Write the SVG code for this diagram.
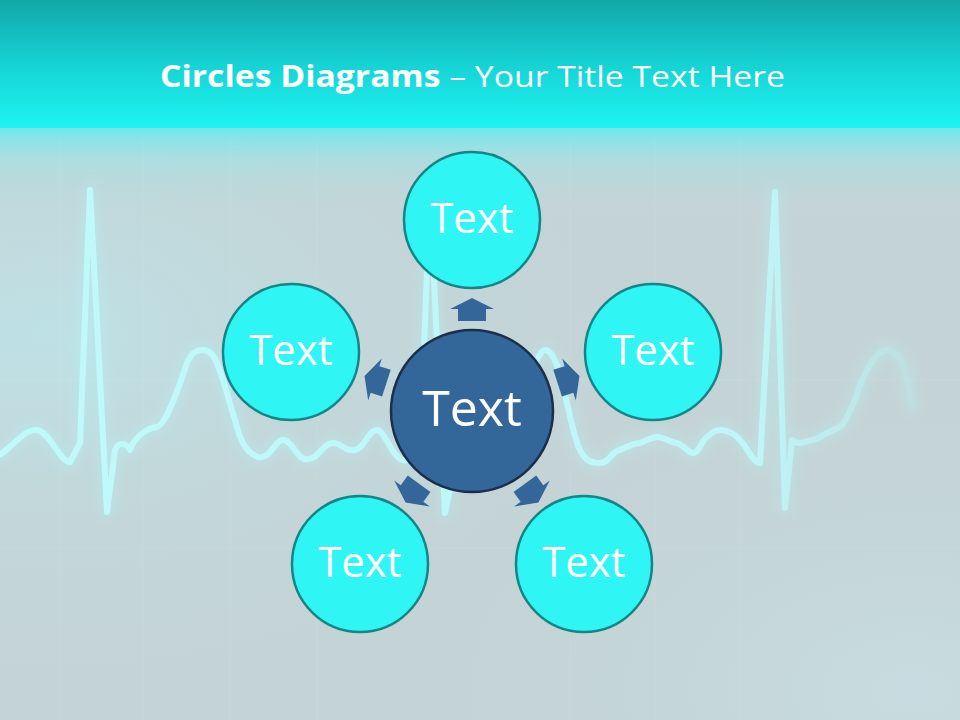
<svg xmlns="http://www.w3.org/2000/svg" xmlns:xlink="http://www.w3.org/1999/xlink" width="960" height="720" viewBox="0 0 960 720">
<defs>
<linearGradient id="band" x1="0" y1="0" x2="0" y2="1">
<stop offset="0" stop-color="#12a8a9"/>
<stop offset="0.55" stop-color="#17d6d7"/>
<stop offset="1" stop-color="#1ef3f3"/>
</linearGradient>
<linearGradient id="fade" x1="0" y1="0" x2="0" y2="1">
<stop offset="0" stop-color="#6fe8eb" stop-opacity="1"/>
<stop offset="0.35" stop-color="#9ee2e5" stop-opacity="0.6"/>
<stop offset="1" stop-color="#c4d4d6" stop-opacity="0"/>
</linearGradient>
<radialGradient id="leftglow" cx="0.05" cy="0.35" r="0.6">
<stop offset="0" stop-color="#bde3e8" stop-opacity="0.9"/>
<stop offset="1" stop-color="#c4d4d6" stop-opacity="0"/>
</radialGradient>
<radialGradient id="brglow" cx="0.95" cy="0.95" r="0.5">
<stop offset="0" stop-color="#c8dde2" stop-opacity="0.9"/>
<stop offset="1" stop-color="#c4d4d6" stop-opacity="0"/>
</radialGradient>
<filter id="blur" x="-10%" y="-10%" width="120%" height="120%">
<feGaussianBlur stdDeviation="5"/>
</filter>
<linearGradient id="ecgfade" x1="0" y1="0" x2="960" y2="0" gradientUnits="userSpaceOnUse">
<stop offset="0" stop-color="#bff9fa"/>
<stop offset="0.78" stop-color="#bff9fa" stop-opacity="0.9"/>
<stop offset="0.86" stop-color="#bff9fa" stop-opacity="0.55"/>
<stop offset="0.96" stop-color="#bff9fa" stop-opacity="0"/>
</linearGradient>
<polygon id="arr" points="-14,-90 -14,-102 -22,-102 0,-113 22,-102 14,-102 14,-90"/>
<style>
.outer{fill:#2ff5f5;stroke:#148686;stroke-width:2.5}
.center{fill:#336699;stroke:#1a2f4c;stroke-width:2.5}
.lbl{font-family:"Open Sans","Liberation Sans",sans-serif;fill:#ffffff;text-anchor:middle}
.arrow{fill:#336699}
.grid{stroke:#ffffff;stroke-opacity:0.08;stroke-width:1}
</style>
</defs>

<!-- background -->
<rect x="0" y="0" width="960" height="720" fill="#c4d4d6"/>
<rect x="0" y="128" width="960" height="592" fill="url(#leftglow)"/>
<rect x="0" y="128" width="960" height="592" fill="url(#brglow)"/>
<rect x="0" y="128" width="960" height="90" fill="url(#fade)"/>
<rect x="0" y="0" width="960" height="128" fill="url(#band)"/>

<g class="grid">
<line x1="60" y1="140" x2="60" y2="720"/>
<line x1="143" y1="140" x2="143" y2="720"/>
<line x1="230" y1="140" x2="230" y2="720"/>
<line x1="317" y1="140" x2="317" y2="720"/>
<line x1="570" y1="140" x2="570" y2="720"/>
<line x1="655" y1="140" x2="655" y2="720"/>
<line x1="740" y1="140" x2="740" y2="720"/>
<line x1="0" y1="380" x2="960" y2="380"/>
<line x1="0" y1="548" x2="960" y2="548"/>
</g>

<!-- ECG line -->
<g id="ecg" fill="none" stroke-linejoin="round" stroke-linecap="round">
<path id="ecgpath" d="M -5 455 C 5 458 22 428 37 430 C 50 432 60 462 70 462 L 80 443 L 90 190 L 107 512 L 115 450 C 118 442 126 442 130 450 C 133 440 145 428 157 427 C 166 424 178 390 187 363 C 192 352 197 350 203 350 C 210 350 214 356 217 363 C 224 380 230 405 235 420 C 240 440 245 452 258 457 C 270 460 275 440 283 440 C 292 440 296 457 304 459 C 318 462 322 443 333 443 C 342 443 345 452 355 450 C 365 448 368 430 377 430 C 385 430 392 458 403 460 C 410 462 418 455 420 450 L 430 195 L 445 513 L 458 450 C 470 430 490 420 505 420 L 520 400 C 530 380 538 350 545 350 C 555 350 562 380 567 403 C 572 425 575 440 580 450 C 585 460 590 463 600 463 C 610 463 612 450 620 450 C 628 446 634 443 640 443 C 648 440 652 437 657 437 C 666 437 670 443 677 443 C 685 446 688 453 693 453 C 699 453 702 440 707 437 C 712 432 716 430 720 430 C 730 430 738 437 742 442 C 748 450 754 463 760 463 L 775 192 L 785 508 L 792 440 C 795 443 798 443 800 443 C 806 443 808 440 813 440 C 820 438 823 435 827 433 C 834 430 838 428 842 425 C 848 418 850 410 855 400 C 860 385 866 370 872 362 C 877 354 882 350 887 350 C 895 350 900 356 904 368 C 908 380 910 395 912 405"/>
<use xlink:href="#ecgpath" stroke="#aef6f8" stroke-width="14" stroke-opacity="0.3" filter="url(#blur)"/>
<use xlink:href="#ecgpath" stroke="url(#ecgfade)" stroke-width="6"/>
</g>

<!-- title -->
<text x="160" y="87" font-family="'Open Sans','Liberation Sans',sans-serif" font-size="30" fill="#ffffff" textLength="625" lengthAdjust="spacingAndGlyphs"><tspan font-weight="bold">Circles Diagrams</tspan> – Your Title Text Here</text>

<!-- connectors -->
<g id="connectors" class="arrow">
<use xlink:href="#arr" transform="translate(472 411) rotate(0)"/>
<use xlink:href="#arr" transform="translate(472 411) rotate(72)"/>
<use xlink:href="#arr" transform="translate(472 411) rotate(144)"/>
<use xlink:href="#arr" transform="translate(472 411) rotate(216)"/>
<use xlink:href="#arr" transform="translate(472 411) rotate(288)"/>
</g>

<!-- nodes -->
<g id="node-center">
<circle class="center" cx="472" cy="411" r="81"/>
<text class="lbl" x="472" y="426" font-size="50">Text</text>
</g>
<g id="node-top">
<circle class="outer" cx="472" cy="220" r="68"/>
<text class="lbl" x="472" y="233" font-size="42">Text</text>
</g>
<g id="node-upper-right">
<circle class="outer" cx="653" cy="352" r="68"/>
<text class="lbl" x="653" y="365" font-size="42">Text</text>
</g>
<g id="node-lower-right">
<circle class="outer" cx="584" cy="564" r="68"/>
<text class="lbl" x="584" y="577" font-size="42">Text</text>
</g>
<g id="node-lower-left">
<circle class="outer" cx="360" cy="564" r="68"/>
<text class="lbl" x="360" y="577" font-size="42">Text</text>
</g>
<g id="node-upper-left">
<circle class="outer" cx="291" cy="352" r="68"/>
<text class="lbl" x="291" y="365" font-size="42">Text</text>
</g>
</svg>
